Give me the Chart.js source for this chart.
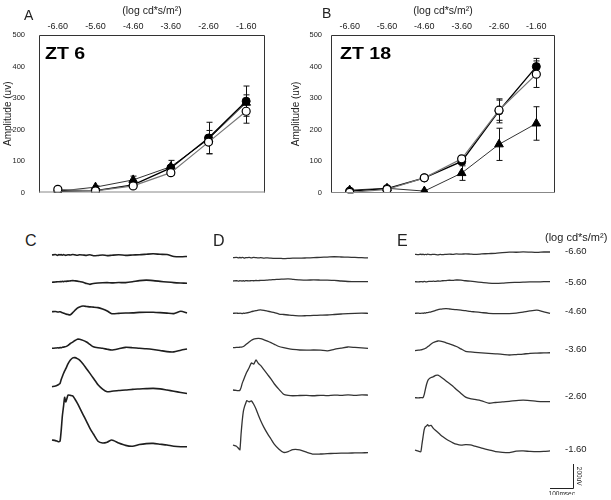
<!DOCTYPE html>
<html><head><meta charset="utf-8">
<script src="https://cdn.jsdelivr.net/npm/chart.js@4/dist/chart.umd.min.js"></script>
<style>
html,body{margin:0;padding:0;background:#fff;}
body{width:611px;height:500px;position:relative;overflow:hidden;font-family:"Liberation Sans",Arial,sans-serif;color:#222;}
canvas{position:absolute;}
.t{position:absolute;white-space:nowrap;line-height:1;color:#222;}
</style></head><body>
<canvas id="cA" width="288" height="211" style="left:0px;top:0px"></canvas>
<canvas id="cB" width="323" height="210" style="left:288px;top:0px"></canvas>
<canvas id="cC" width="145" height="260" style="left:47px;top:235px"></canvas>
<canvas id="cD" width="145" height="260" style="left:228px;top:235px"></canvas>
<canvas id="cE" width="175" height="260" style="left:410px;top:235px"></canvas>
<div class="t" style="left:24px;top:8px;font-size:14px">A</div>
<div class="t" style="left:322px;top:6px;font-size:14px">B</div>
<div class="t" style="left:25px;top:233px;font-size:16px">C</div>
<div class="t" style="left:213px;top:233px;font-size:16px">D</div>
<div class="t" style="left:397px;top:233px;font-size:16px">E</div>
<div class="t" style="left:545px;top:231.5px;font-size:11px">(log cd*s/m²)</div>
<div id="rlabels"></div>
<script>
// ---------- data: intensity steps ----------
const luxLabels = ['-6.60','-5.60','-4.60','-3.60','-2.60','-1.60'];
const axisTitleX = '(log cd*s/m²)';
const axisTitleY = 'Amplitude (uv)';

// ZT 6 amplitudes (uV) and error bars
const zt6Filled    = [4, 6, 24, 78, 173, 290];
const zt6Open      = [10, 5, 21, 63, 160, 258];
const zt6Tri       = [4, 17, 40, 82, 169, 285];
const zt6FilledErr = [3, 3, 8, 10, 50, 48];
const zt6OpenErr   = [3, 3, 6, 8, 37, 38];
const zt6TriErr    = [3, 4, 12, 20, 15, 25];

// ZT 18 amplitudes (uV) and error bars
const zt18Filled    = [6, 14, 48, 100, 260, 400];
const zt18Open      = [2, 11, 48, 108, 262, 376];
const zt18Tri       = [9, 15, 6, 63, 154, 220];
const zt18FilledErr = [3, 3, 5, 8, 38, 26];
const zt18OpenErr   = [2, 3, 5, 8, 32, 42];
const zt18TriErr    = [4, 4, 3, 23, 51, 53];

// ---------- data: ERG traces (time in ms, amplitude in uV relative to pre-flash baseline) ----------
const timeMs = [0,15,25,30,35,40,45,50,55,60,70,80,90,100,110,120,135,150,165,180,200,220,240,260,290,320,350,380,410,440,470,500,530,560,587];

const traceC1 = [0,4,-3,3,0,4,-2,3,0,-3,2,0,4,1,-2,2,0,-3,2,-6,-4,0,-5,-2,2,-3,0,2,6,10,6,4,-12,-14,-12];
const traceC2 = [0,3,5,4,6,5,8,6,9,8,10,12,14,12,10,6,0,-10,-17,-10,-6,-4,-3,-5,-2,-3,4,14,18,14,8,2,-3,-6,-8];
const traceC3 = [0,2,-3,-2,0,-4,-8,-12,-15,-19,-24,-26,-8,12,30,40,47,44,40,38,34,22,6,-17,-14,-11,-10,-6,-4,-5,-8,-12,-16,4,-10];
const traceC4 = [0,2,4,3,6,5,8,10,12,14,25,40,52,65,76,75,66,52,32,12,4,0,-8,-14,-4,8,5,0,-4,-10,-18,-28,-30,-16,-6];
const traceC5 = [0,5,14,20,28,60,85,110,132,150,192,222,240,242,234,222,190,150,111,70,16,-20,-42,-38,-32,-28,-22,-19,-16,-14,-18,-28,-38,-48,-56];
const traceC6 = [0,-5,-12,-14,-10,80,200,278,355,318,375,372,368,340,308,270,212,155,97,50,-10,-25,-18,0,-25,-45,-52,-38,-30,-28,-35,-42,-52,-56,-56];

const traceD1 = [0,2,-2,3,-1,2,0,-3,1,0,2,-1,3,0,-2,1,-3,-1,-4,-6,-5,-8,-6,-3,-4,-2,0,3,5,8,6,4,2,0,-2];
const traceD2 = [0,2,-1,3,1,0,2,-1,3,2,1,3,2,4,3,5,6,8,10,12,14,16,17,14,10,8,9,8,7,5,0,-4,-6,-5,-6];
const traceD3 = [0,2,-1,1,0,-2,1,0,2,3,8,14,18,22,26,28,24,18,12,6,-6,-10,-14,-18,-22,-20,-18,-16,-14,-10,-6,-2,0,1,0];
const traceD4 = [0,2,3,4,5,7,10,16,24,32,48,62,72,76,78,76,66,55,42,28,10,0,-8,-14,-19,-20,-19,-20,-26,-14,-4,6,2,-2,-6];
const traceD5 = [0,-4,-6,-2,20,55,80,105,128,150,185,225,215,250,222,205,168,130,92,50,5,-35,-45,-48,-46,-45,-48,-44,-47,-42,-45,-40,-44,-41,-42];
const traceD6 = [0,-10,-30,-40,90,200,280,320,345,370,360,368,340,300,250,205,145,95,50,5,-35,-62,-55,-38,-40,-60,-76,-75,-72,-70,-68,-68,-66,-65,-64];

const traceE1 = [0,-3,2,-2,1,-4,0,-3,2,-1,-3,0,-2,-4,-1,-3,0,2,-1,3,1,4,2,0,3,6,8,14,18,17,20,18,16,19,19];
const traceE2 = [0,-2,1,0,-1,2,0,-2,1,3,2,4,3,6,5,8,9,12,11,14,13,8,4,0,-6,-12,-14,-12,-8,-6,-4,-2,-2,0,0];
const traceE3 = [0,1,-1,2,0,3,2,5,6,8,12,18,24,30,34,37,39,36,32,30,26,22,16,12,6,0,-2,-3,-2,2,10,20,26,12,0];
const traceE4 = [0,4,6,8,12,15,20,25,32,40,55,68,76,81,80,76,66,56,47,35,15,-5,-10,-14,-18,-22,-26,-30,-36,-32,-28,-22,-20,-18,-17];
const traceE5 = [0,-2,1,0,0,25,70,110,140,155,168,175,186,188,176,162,140,118,96,68,36,5,-8,-14,-26,-46,-40,-34,-30,-24,-20,-24,-30,-33,-33];
const traceE6 = [0,-10,-15,45,110,170,195,200,212,200,205,180,162,145,128,112,92,75,60,48,40,44,42,32,15,2,-14,-20,-22,-10,-8,-12,-14,-12,-8];

const scaleBarMs = 100;
const scaleBarUv = 200;

// ---------- layout (page pixels) ----------
const MS_PER_PX = 100/23, UV_PER_PX = 200/24;
const BOTTOM_TOP = 235;
const rowsC = [255, 282.3, 311.7, 348.3, 386.7, 440];
const rowsD = [257.7, 281, 313.3, 347.7, 390, 445];
const rowsE = [254.3, 281.7, 313.3, 350.7, 397.7, 450];
const rightLabelY = [251, 281.7, 310.7, 348.3, 395.7, 449];
const barCorner = {x: 573, y: 488};

// right-hand intensity labels
const rl = document.getElementById('rlabels');
luxLabels.forEach((s,i)=>{
  const d = document.createElement('div');
  d.className='t'; d.style.left='565px'; d.style.top=(rightLabelY[i]-4.8)+'px'; d.style.fontSize='9.5px';
  d.textContent = s; rl.appendChild(d);
});

// ---------- top charts ----------
const topPlugin = {
  id:'topDeco',
  beforeDatasetsDraw(chart){
    const ctx = chart.ctx, y = chart.scales.y;
    ctx.save(); ctx.strokeStyle='#111'; ctx.lineWidth=1;
    chart.data.datasets.forEach((ds,i)=>{
      const meta = chart.getDatasetMeta(i);
      meta.data.forEach((el,j)=>{
        const v = ds.data[j], e = ds.errors[j];
        const x = Math.round(el.x)+0.5;
        const y1 = y.getPixelForValue(v+e), y2 = y.getPixelForValue(v-e);
        ctx.beginPath();
        ctx.moveTo(x,y1); ctx.lineTo(x,y2);
        ctx.moveTo(x-3,y1); ctx.lineTo(x+3,y1);
        ctx.moveTo(x-3,y2); ctx.lineTo(x+3,y2);
        ctx.stroke();
      });
    });
    ctx.restore();
  },
  afterDraw(chart, args, opts){
    const {ctx, chartArea:a} = chart;
    ctx.save();
    ctx.lineWidth=1;
    ctx.strokeStyle='#333';
    ctx.beginPath();
    ctx.moveTo(a.left+0.5, a.bottom); ctx.lineTo(a.left+0.5, a.top+0.5);
    ctx.lineTo(a.right-0.5, a.top+0.5); ctx.lineTo(a.right-0.5, a.bottom);
    ctx.stroke();
    ctx.strokeStyle='#888';
    ctx.beginPath(); ctx.moveTo(a.left, a.bottom-0.5); ctx.lineTo(a.right, a.bottom-0.5); ctx.stroke();
    ctx.fillStyle='#000';
    ctx.font='bold 17px "Liberation Sans", Arial, sans-serif';
    ctx.translate(a.left+opts.dx, a.top+24);
    ctx.scale(1.15,1);
    ctx.fillText(opts.label, 0, 0);
    ctx.restore();
  }
};

function topChart(id, filled, open, tri, fErr, oErr, tErr, label, cfg){
  new Chart(document.getElementById(id), {
    type:'line',
    data:{
      labels: luxLabels,
      datasets:[
        {data:open, errors:oErr, borderColor:'#777', borderWidth:1.2, pointStyle:'circle', pointRadius:4,
         pointBackgroundColor:'#fff', pointBorderColor:'#000', pointBorderWidth:1.2, tension:0},
        {data:filled, errors:fErr, borderColor:'#000', borderWidth:1.4, pointStyle:'circle', pointRadius:4,
         pointBackgroundColor:'#000', pointBorderColor:'#000', pointBorderWidth:1, tension:0},
        {data:tri, errors:tErr, borderColor:'#333', borderWidth:1, pointStyle:'triangle', pointRadius:5,
         pointBackgroundColor:'#000', pointBorderColor:'#000', pointBorderWidth:1, tension:0}
      ]
    },
    options:{
      responsive:false, animation:false, devicePixelRatio:1, events:[],
      layout:{padding:{left:0, top:0, right:cfg.padRight, bottom:17}},
      plugins:{legend:{display:false}, tooltip:{enabled:false}, topDeco:{label:label, dx:cfg.dx}},
      scales:{
        x:{type:'category', position:'top', offset:true,
           grid:{display:false, drawTicks:false}, border:{display:false},
           ticks:{color:'#222', font:{family:'Liberation Sans', size:9}, padding:3, maxRotation:0, autoSkip:false},
           title:{display:true, text:axisTitleX, color:'#222', font:{family:'Liberation Sans', size:10.5}, padding:{top:4.5,bottom:0}},
           afterFit(s){ s.height = 35; }},
        y:{min:0, max:500,
           grid:{display:false, drawTicks:false}, border:{display:false},
           ticks:{stepSize:100, color:'#222', font:{family:'Liberation Sans', size:7.5}, padding:cfg.tickPad},
           title:{display:true, text:axisTitleY, color:'#222', font:{family:'Liberation Sans', size:10}, padding:{top:2.5,bottom:0}},
           afterFit(s){ s.width = cfg.yWidth; }}
      }
    },
    plugins:[topPlugin]
  });
}
topChart('cA', zt6Filled, zt6Open, zt6Tri, zt6FilledErr, zt6OpenErr, zt6TriErr, 'ZT 6', {padRight:23, yWidth:39, tickPad:14, dx:6});
topChart('cB', zt18Filled, zt18Open, zt18Tri, zt18FilledErr, zt18OpenErr, zt18TriErr, 'ZT 18', {padRight:56, yWidth:43, tickPad:9, dx:9});

// ---------- bottom traces ----------
const scaleBarPlugin = {
  id:'scaleBar',
  afterDraw(chart, args, opts){
    const {ctx, scales:{x,y}} = chart;
    const cx = Math.round(x.getPixelForValue(opts.cornerMs))+0.5;
    const cy = Math.round(y.getPixelForValue(opts.cornerUv))+0.5;
    const lx = x.getPixelForValue(opts.cornerMs - scaleBarMs);
    const ty = y.getPixelForValue(opts.cornerUv + scaleBarUv);
    ctx.save(); ctx.strokeStyle='#222'; ctx.lineWidth=1;
    ctx.beginPath(); ctx.moveTo(lx, cy); ctx.lineTo(cx, cy); ctx.lineTo(cx, ty); ctx.stroke();
    ctx.fillStyle='#222'; ctx.font='6.5px "Liberation Sans", Arial, sans-serif';
    ctx.textAlign='center'; ctx.textBaseline='top';
    ctx.fillText('100msec', (lx+cx)/2, cy+2);
    ctx.translate(cx+5.5, (cy+ty)/2); ctx.rotate(Math.PI/2); ctx.textBaseline='middle';
    ctx.fillText('200uV', 0, 0);
    ctx.restore();
  }
};

function traceChart(id, startX, rowYs, traces, color, lw, bar){
  const canvas = document.getElementById(id);
  const left = parseFloat(canvas.style.left);
  const w = canvas.width, h = canvas.height;
  const xmin = -(startX - left)*MS_PER_PX;
  const datasets = traces.map((vals,i)=>{
    const off = -(rowYs[i]-BOTTOM_TOP)*UV_PER_PX;
    return {data: timeMs.map((t,k)=>({x:t, y:vals[k]+off})), borderColor:color, borderWidth:lw,
            pointRadius:0, tension:0.2, clip:false, fill:false};
  });
  const pluginOpts = {legend:{display:false}, tooltip:{enabled:false}};
  if (bar) pluginOpts.scaleBar = {cornerMs:(barCorner.x-startX)*MS_PER_PX, cornerUv:-(barCorner.y-BOTTOM_TOP)*UV_PER_PX};
  new Chart(canvas, {
    type:'line', data:{datasets},
    options:{responsive:false, animation:false, devicePixelRatio:1, events:[],
      layout:{padding:0}, plugins:pluginOpts,
      scales:{x:{type:'linear', display:false, min:xmin, max:xmin + w*MS_PER_PX},
              y:{display:false, min:-h*UV_PER_PX, max:0}}},
    plugins: bar ? [scaleBarPlugin] : []
  });
}
traceChart('cC', 52, rowsC, [traceC1,traceC2,traceC3,traceC4,traceC5,traceC6], '#1e1e1e', 1.6, false);
traceChart('cD', 233, rowsD, [traceD1,traceD2,traceD3,traceD4,traceD5,traceD6], '#333', 1.3, false);
traceChart('cE', 415, rowsE, [traceE1,traceE2,traceE3,traceE4,traceE5,traceE6], '#333', 1.3, true);
</script>
</body></html>
